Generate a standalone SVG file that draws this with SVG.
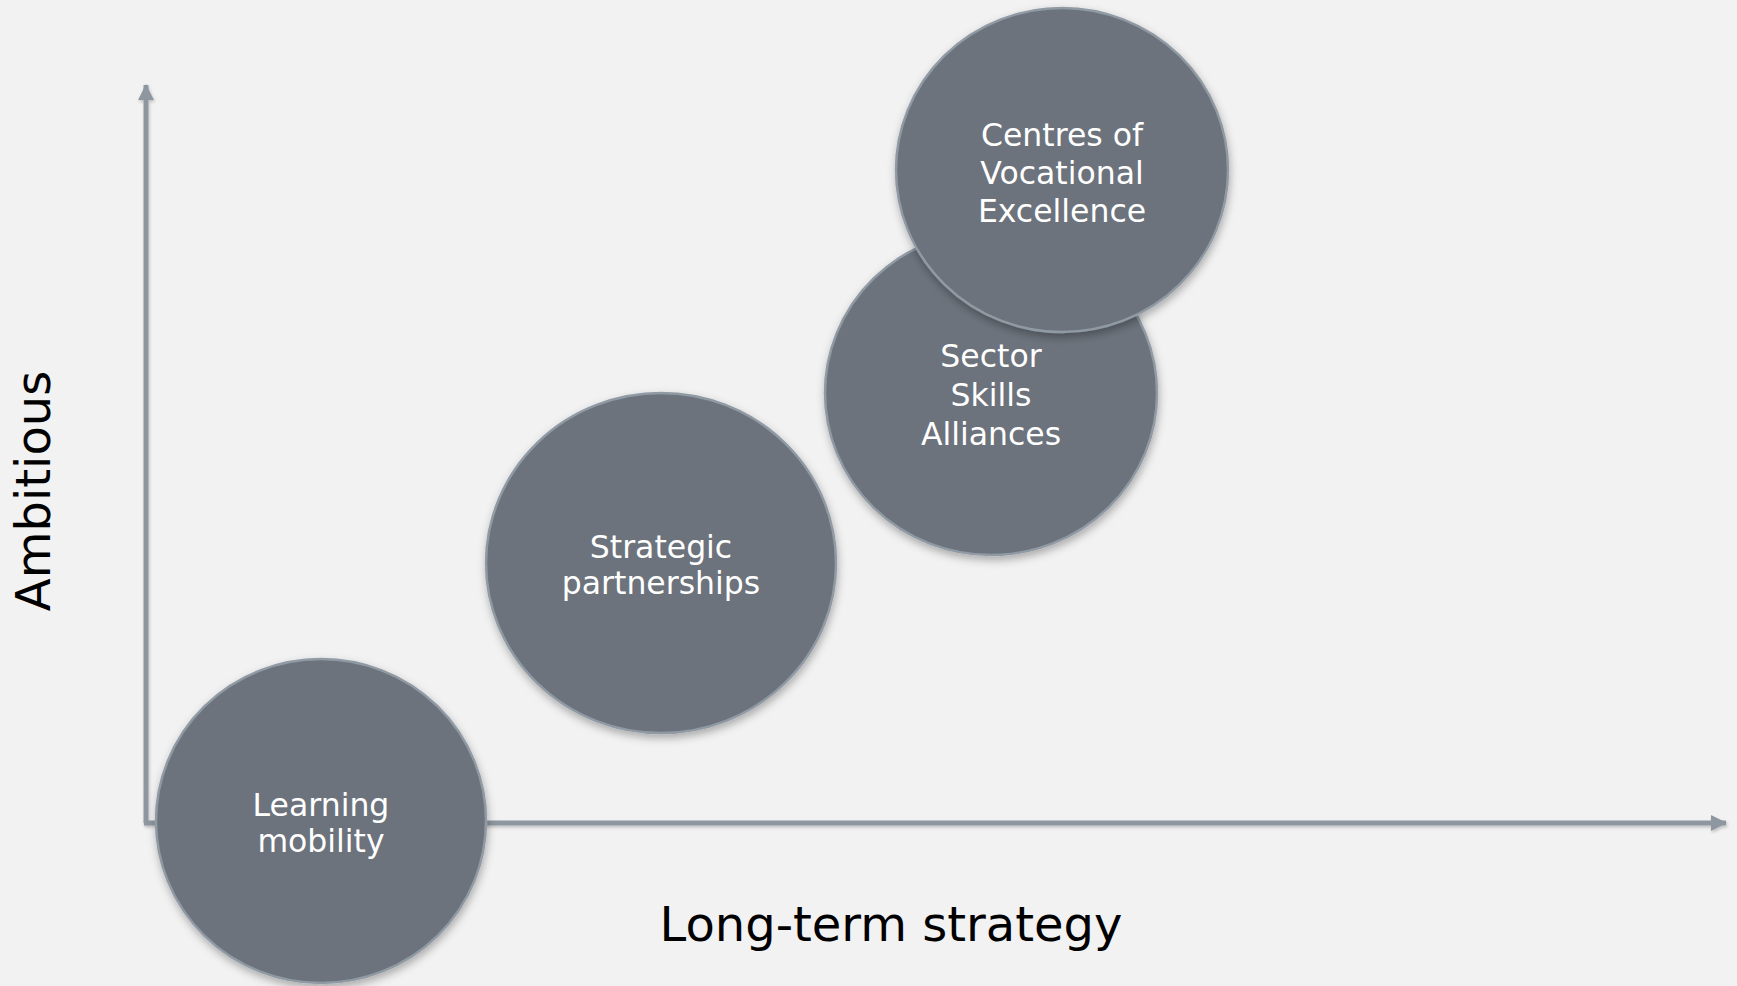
<svg xmlns="http://www.w3.org/2000/svg" width="1737" height="986" viewBox="0 0 1737 986">
  <defs>
    <style>
      .node { fill: #6C737B; stroke: #909AA4; stroke-width: 2.5; filter: url(#shadow); }
      .label { font-family: "DejaVu Sans", Verdana, sans-serif; font-size: 31.5px; fill: #FFFFFF; text-anchor: middle; }
      .axis { stroke: #8E979F; stroke-width: 5; fill: none; filter: url(#ashadow); }
      .axislabel { font-family: "DejaVu Sans", Verdana, sans-serif; font-size: 48px; fill: #000000; text-anchor: middle; }
    </style>
    <filter id="shadow" x="-20%" y="-20%" width="140%" height="140%">
      <feDropShadow dx="1" dy="4" stdDeviation="4" flood-color="#000" flood-opacity="0.3"/>
    </filter>
    <filter id="ashadow" filterUnits="userSpaceOnUse" x="0" y="0" width="1737" height="986">
      <feDropShadow dx="1" dy="2" stdDeviation="1.5" flood-color="#000" flood-opacity="0.2"/>
    </filter>
    <marker id="arrow" viewBox="0 0 16 16" refX="15" refY="8" markerWidth="16" markerHeight="16" markerUnits="userSpaceOnUse" orient="auto">
      <path d="M0,0 L16,8 L0,16 Z" fill="#8E979F"/>
    </marker>
  </defs>
  <rect width="1737" height="986" fill="#F2F2F2"/>
  <g id="connectors">
    <path class="axis" d="M146,823 L146,85" marker-end="url(#arrow)"/>
    <path class="axis" d="M144,823 L1726,823" marker-end="url(#arrow)"/>
  </g>
  <g id="node-learning-mobility">
    <ellipse class="node" cx="321" cy="821" rx="165" ry="162"/>
    <text class="label" x="321" y="816">Learning</text>
    <text class="label" x="321" y="852">mobility</text>
  </g>
  <g id="node-strategic-partnerships">
    <ellipse class="node" cx="661" cy="563" rx="175" ry="170"/>
    <text class="label" x="661" y="558">Strategic</text>
    <text class="label" x="661" y="594">partnerships</text>
  </g>
  <g id="node-sector-skills-alliances">
    <ellipse class="node" cx="991" cy="393" rx="166" ry="162"/>
    <text class="label" x="991" y="367">Sector</text>
    <text class="label" x="991" y="406">Skills</text>
    <text class="label" x="991" y="445">Alliances</text>
  </g>
  <g id="node-centres-of-vocational-excellence">
    <ellipse class="node" cx="1062" cy="170" rx="166" ry="162"/>
    <text class="label" x="1062" y="146">Centres of</text>
    <text class="label" x="1062" y="184">Vocational</text>
    <text class="label" x="1062" y="222">Excellence</text>
  </g>
  <text class="axislabel" transform="translate(50,491) rotate(-90)" x="0" y="0">Ambitious</text>
  <text class="axislabel" x="891" y="941">Long-term strategy</text>
</svg>
